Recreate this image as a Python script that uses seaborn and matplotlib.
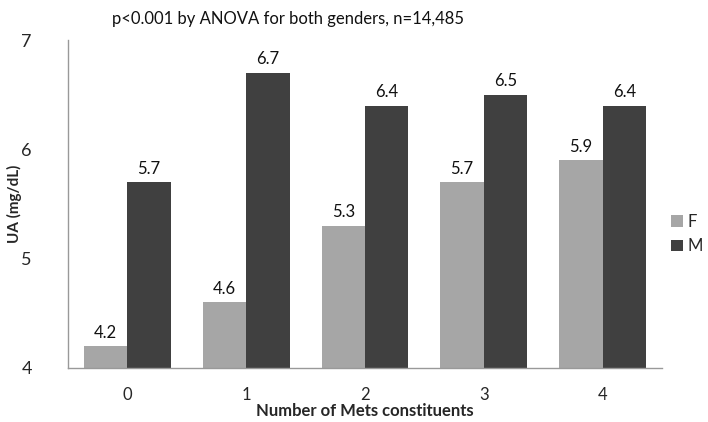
import matplotlib
matplotlib.use("Agg")
import matplotlib.pyplot as plt
import seaborn as sns
import pandas as pd

# values
mets = ["0", "1", "2", "3", "4"]
female = [4.2, 4.6, 5.3, 5.7, 5.9]
male = [5.7, 6.7, 6.4, 6.5, 6.4]

df = pd.DataFrame({
    "Mets": mets * 2,
    "UA": female + male,
    "Gender": ["F"] * 5 + ["M"] * 5,
})

sns.set_style("white")
plt.rcParams["font.family"] = ["Lato", "DejaVu Sans"]

fig = plt.figure(figsize=(7.08, 4.22), dpi=100)
ax = fig.add_axes([0.096, 0.128, 0.839, 0.777])

sns.barplot(data=df, x="Mets", y="UA", hue="Gender",
            palette={"F": "#A6A6A6", "M": "#404040"},
            width=0.73, gap=0, saturation=1, linewidth=0, ax=ax)

for cont in ax.containers:
    ax.bar_label(cont, fmt="%.1f", padding=4, fontsize=12, color="#111111")

ax.set_ylim(4, 7)
ax.set_yticks([4, 5, 6, 7])
ax.set_xlim(-0.5, 4.5)
ax.tick_params(axis="y", length=0, pad=26, labelsize=13)
ax.tick_params(axis="x", length=0, pad=14, labelsize=12)
for s in ["top", "right"]:
    ax.spines[s].set_visible(False)
for s in ["left", "bottom"]:
    ax.spines[s].set_color("#999999")
    ax.spines[s].set_linewidth(1)

ax.set_xlabel("Number of Mets constituents", fontsize=12, fontweight="bold", labelpad=0)
ax.set_ylabel("UA (mg/dL)", fontsize=11, fontweight="bold")
ax.yaxis.set_label_coords(-0.078, 0.5)

ax.legend_.remove()
handles, labels = ax.get_legend_handles_labels()
fig.legend(handles, labels, loc="center left", bbox_to_anchor=(0.948, 0.445),
           frameon=False, fontsize=12, handlelength=0.7, handleheight=0.7,
           handletextpad=0.3, labelspacing=0.5, borderaxespad=0, borderpad=0)

fig.text(0.158, 0.955, "p<0.001 by ANOVA for both genders, n=14,485", fontsize=12,
         ha="left", va="center", color="#111111")

fig.savefig("out.png", dpi=100)
